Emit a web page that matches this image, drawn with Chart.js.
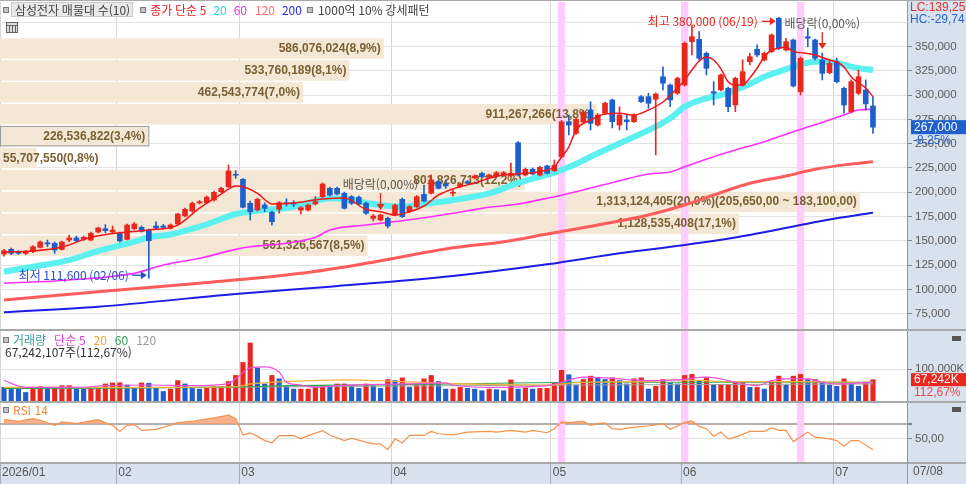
<!DOCTYPE html>
<html lang="ko">
<head>
<meta charset="utf-8">
<title>삼성전자 일봉 차트</title>
<script src="https://cdn.jsdelivr.net/npm/chart.js@4.4.1/dist/chart.umd.min.js"></script>
<style>
  html, body { margin: 0; padding: 0; background: #fff; }
  #wrap { position: relative; width: 966px; height: 484px; overflow: hidden; background: #fff; }
  #wrap canvas { position: absolute; left: 0; }
</style>
</head>
<body>
<div id="wrap">
  <canvas id="priceCv" width="966" height="329" style="top:0;width:966px;height:329px"></canvas>
  <canvas id="volCv" width="966" height="72" style="top:329px;width:966px;height:72px"></canvas>
  <canvas id="rsiCv" width="966" height="83" style="top:401px;width:966px;height:83px"></canvas>
</div>
<script>
// daily candles, 2026/01 .. 07/08 (x = candle number)
const opens = [
  136500,141300,138900,137200,138900,143400,148100,147500,141300,150900,
  153000,151600,150900,159100,162500,159100,157800,151600,162500,164000,
  161200,165300,165300,163000,167400,175600,180800,189000,189300,192100,
  200600,205800,218500,213400,188700,181800,186900,179400,182500,189300,
  189300,181800,181800,188000,195500,204100,204100,199000,195500,194900,
  188700,173200,171500,173200,176600,192800,180000,185200,197900,199000,
  210900,208500,199000,205800,210900,214700,219500,215700,216800,217800,
  216800,251000,217800,223700,217800,227100,222200,236600,272600,260700,
  272300,284700,269200,281300,295000,269200,274400,272600,298400,298400,
  295700,318900,310400,301900,310400,355000,357400,343000,303500,305300,
  307000,289800,310400,334400,347100,336100,344700,379000,346400,356700,
  303500,360100,356700,336100,323100,334400,307000,282900,301900,305300,
  288800];
const highs = [
  141300,142700,140100,140100,145300,149900,150900,148900,149900,156100,
  155000,155000,159100,164300,166700,165300,159100,167400,168900,165300,
  162200,169700,166900,167400,178700,183800,190000,191600,196200,201300,
  205400,228100,222200,214200,191000,194100,189300,180800,190500,193400,
  191400,185400,188000,195500,209600,205400,205400,200300,196700,196200,
  190000,177200,177700,174600,188000,194100,186400,196700,207500,217800,
  212100,212700,202400,209600,212100,217800,220900,218800,221400,221400,
  230100,252300,225000,225000,227100,228100,233200,273900,279500,276500,
  284200,293200,281100,292900,296000,288100,279500,280600,299600,301900,
  302200,329200,311400,318600,354700,372100,365300,344400,313800,321700,
  308300,318600,336100,343000,351600,344400,362900,380000,358500,357700,
  339200,369100,357700,343300,336100,338200,308300,315600,325800,315600,
  298100];
const lows = [
  134400,135800,136000,136000,138000,142700,144000,137200,140600,149200,
  149200,150400,149900,158100,158400,158100,148900,150900,161700,159100,
  111600,162500,162700,162200,166300,174600,179700,188000,188500,191000,
  199800,204900,214400,183800,171500,180800,180000,166300,178400,185900,
  185200,177700,180800,186900,194600,196200,197200,182800,187400,186900,
  177200,170500,170500,163300,175600,174100,179200,184400,190000,198200,
  203400,204100,196200,204900,208500,213700,215200,214700,215700,216800,
  215700,216800,216800,217800,216800,218800,221400,235800,259000,259500,
  271300,264100,268200,280100,266200,264100,264100,271800,292400,286400,
  238400,305300,288100,300600,309400,341300,336100,320700,289800,304200,
  282900,282900,309400,331000,339500,335100,343800,346900,345400,308300,
  300100,349800,336100,315600,321700,312500,281300,281600,300600,284700,
  260700];
const closes = [
  139900,137200,137200,138900,144000,148900,146800,140600,148900,153000,
  150200,153700,157800,163300,160500,161200,149900,166300,167400,159900,
  150200,163300,164000,166300,177700,182500,188700,190300,194900,200000,
  204100,221900,217500,184600,180000,192800,183500,169700,189300,188000,
  188000,184100,186900,190300,208500,197200,198200,183500,188700,188000,
  178400,175600,176600,165300,186900,174900,185200,195500,191000,212700,
  204100,206500,199800,208500,209300,216800,216000,217800,220200,220200,
  219500,217800,223700,218800,225700,219500,227800,272600,269200,275100,
  282600,271000,279500,291600,272600,279500,272600,279500,293200,291600,
  301100,312200,295000,317300,353300,360100,337900,327600,301900,320700,
  288100,317300,324100,339500,341300,343000,361900,348200,355000,309400,
  337900,358500,337900,322400,332700,313800,289800,313800,318900,291000,
  267000];
// volume in thousand shares (K)
const volumes = [
  42900,37600,37000,26900,37600,45200,37600,42900,48400,48400,
  37600,37000,39800,42900,53800,57000,57500,50500,42900,57000,
  56000,42900,30100,37600,64500,53800,42900,37600,42900,45200,
  45200,61300,80600,121500,182800,104300,53800,80600,69900,48400,
  37600,37600,37600,48400,48400,42900,53800,53800,48400,39800,
  53800,48400,39800,67700,64500,73100,42900,50500,69900,80600,
  61300,37600,37600,42900,39800,37600,32300,37600,35800,32300,
  66700,37600,41000,37600,39800,39800,57000,96800,82800,50500,
  67700,78500,73100,67700,73100,64500,53800,69900,73100,37600,
  46200,67700,57000,53800,80600,83900,64500,73100,50500,50500,
  50500,57000,61300,42900,42900,37600,61300,78500,50500,78500,
  83900,67700,67700,57000,50500,46200,69900,53800,46200,59681,
  67242.107];

// moving averages (candle number, value)
const ma5Idx = [0,4,8,12,16,20,24,27,30,32,33,35,37,40,44,47,50,52,54,56,58,60,62,65,67,69,72,74,76,77,78,79,81,83,85,87,89,91,93,94,95,96,97,98,99,100,101,102,103,104,105,106,107,108,109,110,112,114,115,116,117,118,119,120];
const ma5 = [138600,139600,143700,153700,158400,161200,166300,183800,198200,206500,205800,199000,188000,189000,193100,194100,182500,180000,176600,180000,185900,197200,203400,209600,214400,217800,219500,221200,226300,236300,246600,264100,274400,280600,281300,279500,284700,292900,307300,315600,325800,335100,339200,336100,327000,313800,310400,310400,317600,327600,339500,346400,348100,349500,344700,343700,341300,336100,334100,329000,318700,312500,307300,298400];
const ma20Idx = [0,4,9,13,18,20,23,27,29,32,34,36,39,41,43,45,48,50,52,55,57,59,62,67,71,74,76,79,81,85,90,92,94,97,99,101,103,105,107,109,112,114,116,118,120];
const ma20 = [118300,123400,130300,139600,149200,153700,156600,164600,169700,177700,180000,181800,183800,186900,191000,193800,192100,189000,186900,185200,186900,189000,192100,198800,209600,216000,220200,229100,236600,250400,267500,276100,288100,296700,300100,305300,311400,318900,324100,329200,334400,334400,331000,327600,325800];
const ma60Idx = [0,9,18,22,27,32,34,39,43,45,50,55,59,62,66,71,75,80,85,89,92,94,98,101,105,109,114,116,118,120];
const ma60 = [106400,109800,116600,125200,132100,141300,144000,147500,153700,161200,166300,170800,174900,178400,183500,188000,193800,202400,211900,218800,220900,226300,236600,243500,252100,262400,274400,279500,284700,285400];
const ma120Idx = [0,13,27,41,50,62,69,75,82,89,94,98,103,108,112,117,120];
const ma120 = [89200,97700,106400,116600,126900,142900,149200,157100,166300,176600,186900,197200,209300,216800,223700,229100,231500];
const ma200Idx = [0,13,32,45,62,75,85,94,103,110,115,120];
const ma200 = [76500,82300,95300,102900,113900,125900,137200,145800,156100,166300,173200,179000];

const volMa5Idx = [0,3,10,14,20,26,31,32,34,36,38,39,41,43,46,55,61,62,67,75,77,80,83,89,93,97,100,102,104,106,108,111,113,115,118,120];
const volMa5 = [64500,42900,42900,48400,50500,48400,55000,69900,104300,107500,91400,59100,50500,42900,48400,53800,57000,50500,42900,48400,59100,75300,73100,64500,66700,75300,64500,53800,48400,64500,69900,69900,59100,53800,57000,59100];
const volMa20Idx = [0,20,32,34,39,47,55,62,75,80,89,93,100,110,120];
const volMa20 = [42900,42900,45000,53800,61300,66700,61300,55000,50500,59100,61300,66700,61300,61300,59100];
const volMa60Idx = [0,30,40,50,62,80,100,120];
const volMa60 = [39800,42900,48400,50500,53800,59100,59100,59100];
const volMa120Idx = [0,40,80,120];
const volMa120 = [40000,45000,50500,53800];

const rsiIdx = [0,2,4,5,7,8,10,13,14,15,16,17,18,19,21,23,24,26,29,31,32,33,34,35,36,37,38,40,41,42,44,45,47,48,50,51,52,53,54,55,56,58,59,60,62,64,67,68,70,72,73,75,76,77,78,80,81,82,83,84,85,87,89,91,92,94,95,96,97,98,99,100,101,103,105,106,107,108,109,111,112,114,115,116,117,118,120];
const rsi = [76.7,74.3,78.1,75.7,68.6,73.3,71,76.7,72.4,68.6,60,68.6,69.5,61.4,62.9,68.6,72.4,74.3,79,82.9,78,55,58,53,47,44,54,54,49.5,54,61,55,47,50.5,45,42.4,42.4,34.3,49.5,43.8,54.3,54.3,60,56.7,55,59,60,59,61.4,59,61.4,58.1,63.8,73.3,72.4,74.3,68.6,71,71.9,63.8,62.9,66.1,67.6,71,62.9,72.4,74.8,67,63.8,53.3,59,49.5,51.9,60,60,64.8,61.4,61.4,45.7,59,51.9,49.5,47.1,39,47.1,47.1,34.3];
const rsiHigh = 70;

// axis ticks and labels
const monthTickPos = [-0.55, 15.5, 32.5, 53.5, 75.5, 93.5, 114.5];
const monthLabels = ['2026/01', '02', '03', '04', '05', '06', '07'];
const lastDateLabel = '07/08';
const priceTicks = [75000,100000,125000,150000,175000,200000,225000,250000,275000,300000,325000,350000,375000];
const volTicks = [100000];
const rsiTicks = [50, 70];

// markers
const strongIdx = [77, 94, 110];       // 1000억 10% 강세패턴
const exDivIdx = [52, 113];            // 배당락
const hiDate = '06/19', loDate = '02/06';

// volume profile (매물대), 10 bins from top to bottom
const profileEdges = [359500,336950,314400,291850,269300,246750,224200,201650,179100,156550,134000];
const profileVol = [586076024,533760189,462543774,911267266,226536822,55707550,801826713,1313124405,1128535408,561326567];
const pocRangeText = '(205,650,00 ~ 183,100,00)';
const lcText = 'LC:139,25', hcText = 'HC:-29,74';

// ---- look ----
const NUM = "'Liberation Sans', Arial, sans-serif";
const KR = "'Noto Sans CJK KR', 'Noto Sans', sans-serif";
const UP = '#e8281e', DOWN = '#1f5fcc';
const AXIS_BG = '#d8e2ee';
const AXIS_W = 59;
const BAND = 'rgb(255,204,255)';
const PROFILE_BG = '#f5e7d5';
const X_MIN = -0.55, X_MAX = 124.7;

Chart.defaults.font.family = NUM;

const idx = closes.map((_, i) => i);
const candleColor = idx.map(i => closes[i] >= opens[i] ? UP : DOWN);
const volColor = idx.map(i => (i > 0 && volumes[i] >= volumes[i - 1]) ? UP : DOWN);

function fmt(n){ return Math.round(n).toLocaleString('en-US'); }
function dec(n, d){ return n.toFixed(d).replace('.', ','); }
function pts(xs, ys){ return xs.map((x, k) => ({x, y: ys[k]})); }
function lineDs(xs, ys, color, width, order){
  return { type:'line', data: pts(xs, ys), borderColor: color, borderWidth: width, pointRadius: 0,
    cubicInterpolationMode: 'monotone', fill: false, order };
}
function noPad(s){ s.paddingTop = 0; s.paddingBottom = 0; s.paddingLeft = 0; s.paddingRight = 0; }

function xOpts(withLabels){
  return {
    type: 'linear', min: X_MIN, max: X_MAX, offset: false,
    afterBuildTicks: s => { s.ticks = monthTickPos.map(v => ({value: v})); },
    afterFit: s => { s.height = withLabels ? 22 : 0; noPad(s); },
    grid: { offset: false, color: '#d6d6d6', drawTicks: withLabels, tickLength: withLabels ? 22 : 0, tickColor: '#a3adbb' },
    border: { display: false },
    ticks: { display: withLabels, autoSkip: false, maxRotation: 0, align: 'start', padding: -19, labelOffset: 2,
      color: '#555', font: { size: 12, family: NUM }, callback: (v, i) => monthLabels[i] }
  };
}
function yOpts(min, max, tickList, label, gridColor){
  return {
    position: 'right', min, max,
    afterBuildTicks: s => { s.ticks = tickList.map(v => ({value: v})); },
    afterFit: s => { s.width = AXIS_W; noPad(s); },
    grid: { color: gridColor || '#e3e3e3', tickColor: '#7d8796', tickLength: 5 },
    border: { color: '#8c96a6' },
    ticks: { padding: 3, color: '#5a5a5a', font: { size: 11.5, family: NUM }, callback: label }
  };
}

function drawBands(chart){
  const {ctx, chartArea: a, scales: {x}} = chart;
  ctx.save();
  ctx.fillStyle = BAND;
  strongIdx.forEach(i => {
    const l = x.getPixelForValue(i - 0.5), r = x.getPixelForValue(i + 0.5);
    ctx.fillRect(l, a.top, r - l, a.bottom - a.top);
  });
  ctx.restore();
}
function axisBg(chart){
  const {ctx, chartArea: a, width, height} = chart;
  ctx.save();
  ctx.fillStyle = AXIS_BG;
  ctx.fillRect(a.right, 0, width - a.right, height);
  ctx.restore();
}
function axisEdge(chart){
  const {ctx, chartArea: a, height} = chart;
  ctx.save();
  ctx.fillStyle = '#8c96a6';
  ctx.fillRect(Math.round(a.right), 0, 1, height);
  ctx.restore();
}
function topRule(chart, h){
  const {ctx, width} = chart;
  ctx.save();
  ctx.fillStyle = '#a9a9a9';
  ctx.fillRect(0, 0, width, h);
  ctx.restore();
}
function legendSquare(ctx, x, y){
  ctx.fillStyle = '#c4c4c4';
  ctx.fillRect(x, y - 3, 6, 6);
  ctx.strokeStyle = '#7a7a7a';
  ctx.lineWidth = 1;
  ctx.strokeRect(x + 0.5, y - 2.5, 5, 5);
}
function drawItems(ctx, x, y, items){
  items.forEach(([t, c, g]) => { ctx.fillStyle = c; ctx.fillText(t, x, y); x += ctx.measureText(t).width + g; });
  return x;
}
function arrowRight(ctx, x1, x2, y, color){
  ctx.strokeStyle = color; ctx.fillStyle = color; ctx.lineWidth = 1.3;
  ctx.beginPath(); ctx.moveTo(x1, y); ctx.lineTo(x2 - 4, y); ctx.stroke();
  ctx.beginPath(); ctx.moveTo(x2, y); ctx.lineTo(x2 - 6, y - 4); ctx.lineTo(x2 - 6, y + 4); ctx.closePath(); ctx.fill();
}
function arrowDown(ctx, x, y1, y2, color){
  ctx.strokeStyle = color; ctx.fillStyle = color; ctx.lineWidth = 1.3;
  ctx.beginPath(); ctx.moveTo(x, y1); ctx.lineTo(x, y2 - 4); ctx.stroke();
  ctx.beginPath(); ctx.moveTo(x, y2); ctx.lineTo(x - 4, y2 - 6); ctx.lineTo(x + 4, y2 - 6); ctx.closePath(); ctx.fill();
}

// 매물대 geometry for bin k
function profileBin(chart, k){
  const {chartArea: a, scales: {y}} = chart;
  const maxV = Math.max(...profileVol);
  const top = y.getPixelForValue(profileEdges[k]), bot = y.getPixelForValue(profileEdges[k + 1]);
  return { top, bot, w: profileVol[k] / maxV * (a.right - a.left) * 0.948, isPoc: profileVol[k] === maxV };
}
function drawProfileBars(chart){
  const {ctx, chartArea: a} = chart;
  const last = closes[closes.length - 1];
  ctx.save();
  profileVol.forEach((v, k) => {
    const b = profileBin(chart, k);
    ctx.fillStyle = PROFILE_BG;
    ctx.fillRect(a.left, b.top + 1, b.w, b.bot - b.top - 1.5);
    if (last <= profileEdges[k] && last > profileEdges[k + 1]) {
      ctx.strokeStyle = '#9b9b9b'; ctx.lineWidth = 1;
      ctx.strokeRect(a.left + 0.5, b.top + 1.5, b.w, b.bot - b.top - 2.5);
    }
  });
  ctx.restore();
}
function drawProfileLabels(chart){
  const {ctx, chartArea: a} = chart;
  const total = profileVol.reduce((s, v) => s + v, 0);
  ctx.save();
  ctx.font = `bold 12px ${NUM}`;
  ctx.textBaseline = 'middle';
  ctx.fillStyle = '#7a6033';
  profileVol.forEach((v, k) => {
    const b = profileBin(chart, k);
    let txt = fmt(v) + '(' + dec(v / total * 100, 1) + '%)';
    if (b.isPoc) txt += pocRangeText;
    const tw = ctx.measureText(txt).width;
    ctx.fillText(txt, Math.max(a.left + b.w - 3 - tw, a.left + 3), (b.top + b.bot) / 2 + 0.5);
  });
  ctx.restore();
}

function drawPriceNotes(chart){
  const {ctx, scales: {x, y}} = chart;
  ctx.save();
  ctx.font = `12px ${KR}`;
  ctx.textBaseline = 'middle';
  // highest / lowest
  const hiV = Math.max(...highs), hiI = highs.indexOf(hiV);
  const loV = Math.min(...lows), loI = lows.indexOf(loV);
  const hx = x.getPixelForValue(hiI), hy = y.getPixelForValue(hiV) + 4;
  arrowRight(ctx, hx - 17, hx - 3, hy, UP);
  ctx.fillStyle = UP; ctx.textAlign = 'right';
  ctx.fillText('최고 ' + fmt(hiV) + ' (' + hiDate + ')', hx - 21, hy);
  const lx = x.getPixelForValue(loI), ly = y.getPixelForValue(loV) - 3;
  arrowRight(ctx, lx - 17, lx - 2, ly, '#2a4fd0');
  ctx.fillStyle = '#2a4fd0';
  ctx.fillText('최저 ' + fmt(loV) + ' (' + loDate + ')', lx - 20, ly);
  // 배당락
  ctx.textAlign = 'center';
  exDivIdx.forEach(i => {
    const ex = x.getPixelForValue(i), yb = y.getPixelForValue(highs[i]) - 4, yt = yb - 17;
    arrowDown(ctx, ex, yt, yb, UP);
    ctx.fillStyle = '#555';
    ctx.fillText('배당락(' + dec(0, 2) + '%)', ex, yt - 9);
  });
  ctx.restore();
}

function drawPriceLegend(chart){
  const {ctx} = chart;
  ctx.save();
  ctx.font = `12px ${KR}`;
  ctx.textBaseline = 'middle';
  const y0 = 10;
  legendSquare(ctx, 3, y0);
  const t0 = '삼성전자 매물대 수(10)';
  const w0 = ctx.measureText(t0).width;
  ctx.fillStyle = '#e9e9e9'; ctx.fillRect(11, 2, w0 + 7, 15);
  ctx.strokeStyle = '#c9c9c9'; ctx.lineWidth = 1; ctx.strokeRect(11.5, 2.5, w0 + 6, 14);
  ctx.fillStyle = '#444'; ctx.fillText(t0, 15, y0);
  let x = 11 + w0 + 14;
  legendSquare(ctx, x, y0);
  x = drawItems(ctx, x + 10, y0, [['종가 단순 5', '#f02020', 7], ['20', '#22d8e4', 7], ['60', '#f032f0', 8], ['120', '#ff7070', 7], ['200', '#2a2af0', 5]]);
  legendSquare(ctx, x, y0);
  drawItems(ctx, x + 11, y0, [['1000억 10% 강세패턴', '#444', 0]]);
  // small table icon
  ctx.fillStyle = '#dcdcdc'; ctx.fillRect(6, 22, 12, 11);
  ctx.strokeStyle = '#666'; ctx.strokeRect(6.5, 22.5, 11, 10);
  ctx.beginPath();
  [9.5, 12.5, 15.5].forEach(v => { ctx.moveTo(v, 25); ctx.lineTo(v, 32); });
  ctx.moveTo(7, 25.5); ctx.lineTo(17, 25.5);
  ctx.stroke();
  ctx.restore();
}

function drawPriceAxisTags(chart){
  const {ctx, chartArea: a, width, scales: {y}} = chart;
  const n = closes.length;
  const last = closes[n - 1], prev = closes[n - 2];
  ctx.save();
  ctx.fillStyle = AXIS_BG;
  ctx.fillRect(a.right + 1, 0, width - a.right, 29);
  ctx.font = `12px ${NUM}`;
  ctx.textBaseline = 'middle';
  ctx.fillStyle = '#e0302a'; ctx.fillText(lcText, a.right + 3, 8);
  ctx.fillStyle = '#2a64d0'; ctx.fillText(hcText, a.right + 3, 20);
  const yc = y.getPixelForValue(last);
  ctx.fillStyle = DOWN; ctx.fillRect(a.right + 4, yc - 7, width - a.right - 4, 14);
  ctx.fillStyle = '#fff'; ctx.fillText(fmt(last), a.right + 7, yc + 0.5);
  ctx.fillStyle = '#2a64d0'; ctx.fillText(dec((last / prev - 1) * 100, 2) + '%', a.right + 6, yc + 14);
  ctx.restore();
  axisEdge(chart);
  topRule(chart, 1);
}

const pricePlugin = {
  id: 'priceDeco',
  beforeDraw: axisBg,
  beforeDatasetsDraw(chart){ drawProfileBars(chart); drawBands(chart); drawProfileLabels(chart); },
  afterDatasetsDraw: drawPriceNotes,
  afterDraw(chart){ drawPriceLegend(chart); drawPriceAxisTags(chart); }
};

new Chart(document.getElementById('priceCv'), {
  type: 'bar',
  data: { datasets: [
    lineDs(ma5Idx, ma5, '#f01818', 1.5, 0),
    { type: 'bar', data: idx.map(i => ({x: i, y: [opens[i], closes[i]]})), backgroundColor: candleColor,
      barThickness: 5, minBarLength: 1, grouped: false, order: 1 },
    { type: 'bar', data: idx.map(i => ({x: i, y: [lows[i], highs[i]]})), backgroundColor: candleColor,
      barThickness: 1, grouped: false, order: 2 },
    lineDs(ma20Idx, ma20, '#5cf0f0', 6, 3),
    lineDs(ma60Idx, ma60, '#ff30ff', 1.6, 4),
    lineDs(ma120Idx, ma120, '#ff5c5c', 3, 5),
    lineDs(ma200Idx, ma200, '#1c1ce6', 2, 6)
  ]},
  options: {
    responsive: false, animation: false,
    layout: { padding: { top: 2, left: 0, right: 0, bottom: 0 } },
    plugins: { legend: { display: false }, tooltip: { enabled: false } },
    scales: {
      x: xOpts(false),
      y: yOpts(59360, 395780, priceTicks, v => fmt(v))
    }
  },
  plugins: [pricePlugin]
});

// ---- volume ----
const volPlugin = {
  id: 'volDeco',
  beforeDraw: axisBg,
  beforeDatasetsDraw: drawBands,
  afterDraw(chart){
    const {ctx, chartArea: a, width, scales: {y}} = chart;
    const n = volumes.length;
    const last = volumes[n - 1], prev = volumes[n - 2];
    ctx.save();
    ctx.font = `12px ${KR}`;
    ctx.textBaseline = 'middle';
    legendSquare(ctx, 3, 11);
    drawItems(ctx, 13, 11, [['거래량', '#3c9c9c', 8], ['단순 5', '#e040d8', 8], ['20', '#f0a830', 8], ['60', '#30a050', 8], ['120', '#9a9a9a', 0]]);
    ctx.fillStyle = '#333';
    ctx.fillText(fmt(last * 1000) + '주(' + dec(last / prev * 100, 2) + '%)', 5, 23);
    const yc = y.getPixelForValue(last);
    ctx.font = `12px ${NUM}`;
    ctx.fillStyle = UP; ctx.fillRect(a.right + 4, yc - 6.5, width - a.right - 4, 13);
    ctx.fillStyle = '#fff'; ctx.fillText(fmt(last) + 'K', a.right + 7, yc + 0.5);
    ctx.fillStyle = '#f04848'; ctx.fillText(dec(last / prev * 100, 2) + '%', a.right + 7, yc + 13);
    ctx.fillStyle = '#555'; ctx.fillRect(width - 14, 7, 9, 5);
    ctx.restore();
    axisEdge(chart);
    topRule(chart, 2);
  }
};

new Chart(document.getElementById('volCv'), {
  type: 'bar',
  data: { datasets: [
    lineDs(volMa5Idx, volMa5, '#f050e0', 1.2, 0),
    lineDs(volMa20Idx, volMa20, '#f2b440', 1.2, 1),
    lineDs(volMa60Idx, volMa60, '#30a850', 1.2, 2),
    lineDs(volMa120Idx, volMa120, '#a0a0a0', 1.2, 3),
    { type: 'bar', data: idx.map(i => ({x: i, y: volumes[i]})), backgroundColor: volColor,
      barThickness: 4.5, grouped: false, order: 5 }
  ]},
  options: {
    responsive: false, animation: false,
    layout: { padding: { top: 2, left: 0, right: 0, bottom: 0 } },
    plugins: { legend: { display: false }, tooltip: { enabled: false } },
    scales: {
      x: xOpts(false),
      y: yOpts(0, 220800, volTicks, v => fmt(v) + 'K')
    }
  },
  plugins: [volPlugin]
});

// ---- RSI ----
const rsiPlugin = {
  id: 'rsiDeco',
  beforeDraw(chart){
    const {ctx, chartArea: a, width, height} = chart;
    axisBg(chart);
    ctx.save();
    ctx.fillStyle = AXIS_BG;
    ctx.fillRect(0, a.bottom, width, height - a.bottom);
    ctx.restore();
  },
  beforeDatasetsDraw: drawBands,
  afterDraw(chart){
    const {ctx, chartArea: a, width} = chart;
    ctx.save();
    ctx.fillStyle = '#a9a9a9';
    ctx.fillRect(0, a.bottom, width, 2);
    ctx.font = `12px ${KR}`;
    ctx.textBaseline = 'middle';
    legendSquare(ctx, 3, 9);
    drawItems(ctx, 13, 9, [['RSI 14', '#f08a3a', 0]]);
    ctx.font = `12px ${NUM}`;
    ctx.textBaseline = 'top';
    ctx.fillStyle = '#555';
    ctx.fillText(lastDateLabel, a.right + 6, a.bottom + 4);
    ctx.fillRect(width - 14, 6, 9, 5);
    ctx.restore();
    axisEdge(chart);
    topRule(chart, 2);
  }
};

new Chart(document.getElementById('rsiCv'), {
  type: 'line',
  data: { datasets: [{
    data: pts(rsiIdx, rsi), borderColor: '#f4914a', borderWidth: 1.2, pointRadius: 0, tension: 0,
    fill: { target: { value: rsiHigh }, above: 'rgba(244,160,112,0.8)', below: 'rgba(0,0,0,0)' }
  }]},
  options: {
    responsive: false, animation: false,
    layout: { padding: { top: 2, left: 0, right: 0, bottom: 0 } },
    plugins: { legend: { display: false }, tooltip: { enabled: false } },
    scales: {
      x: xOpts(true),
      y: Object.assign(yOpts(16.9, 100, rsiTicks, v => v === 50 ? dec(v, 2) : ''), {
        grid: { color: c => c.tick && c.tick.value === rsiHigh ? '#b0b0b0' : '#e0e0e0',
                lineWidth: c => c.tick && c.tick.value === rsiHigh ? 2 : 1,
                tickColor: '#7d8796', tickLength: 5 }
      })
    }
  },
  plugins: [rsiPlugin]
});
</script>
</body>
</html>
